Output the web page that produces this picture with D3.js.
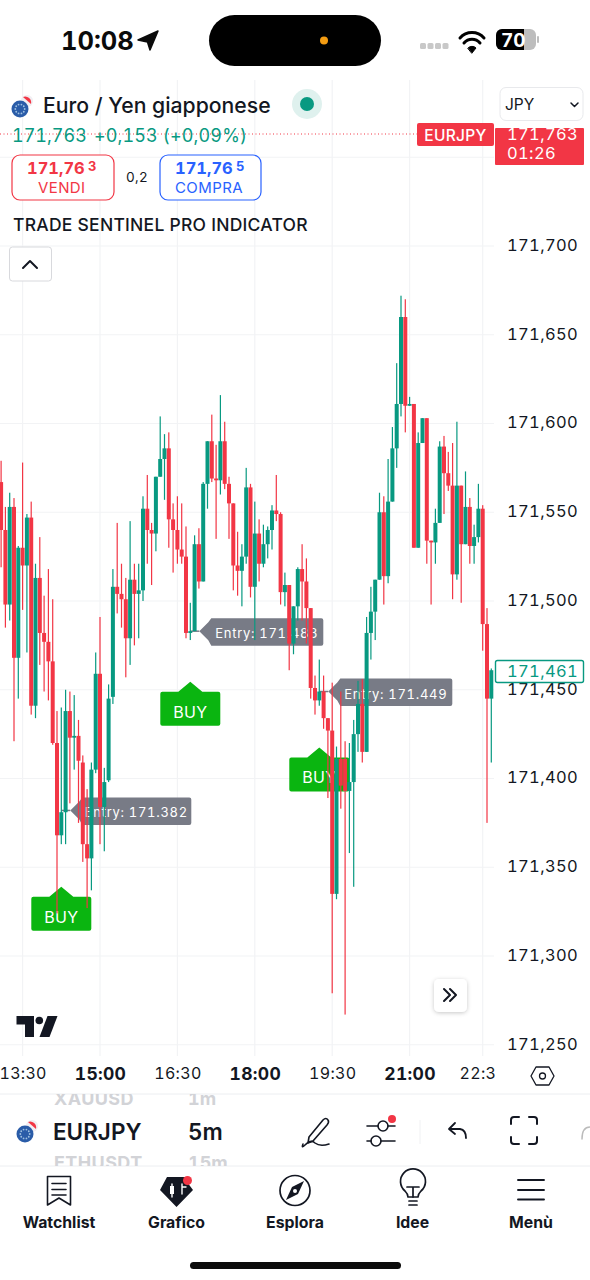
<!DOCTYPE html>
<html><head><meta charset="utf-8">
<script src="https://cdn.jsdelivr.net/npm/d3@7/dist/d3.min.js"></script>
<style>html,body{margin:0;padding:0;background:#fff;overflow:hidden}svg{display:block}text{font-family:Inter,"Noto Sans",sans-serif;font-variant-numeric:tabular-nums;font-feature-settings:"tnum" 1}</style>
</head><body><div id="c"></div>
<script>
// 5-minute bars; prices
const opens=[171.567,171.540,171.498,171.553,171.468,171.530,171.520,171.547,171.441,171.513,171.482,171.477,171.466,171.420,171.368,171.381,171.438,171.423,171.424,171.409,171.363,171.355,171.405,171.459,171.384,171.399,171.446,171.508,171.504,171.501,171.479,171.512,171.504,171.506,171.552,171.540,171.538,171.570,171.580,171.586,171.546,171.540,171.529,171.525,171.482,171.483,171.532,171.511,171.566,171.590,171.569,171.568,171.590,171.566,171.555,171.520,171.517,171.525,171.564,171.508,171.538,171.521,171.532,171.540,171.551,171.549,171.505,171.509,171.476,171.497,171.518,171.511,171.496,171.451,171.444,171.449,171.434,171.427,171.335,171.411,171.411,171.393,171.398,171.425,171.442,171.415,171.482,171.494,171.512,171.550,171.514,171.556,171.586,171.611,171.660,171.610,171.611,171.530,171.589,171.603,171.534,171.533,171.544,171.587,171.572,171.565,171.515,171.565,171.532,171.553,171.531,171.536,171.552,171.487,171.445];
const closes=[171.540,171.498,171.553,171.468,171.530,171.520,171.547,171.441,171.513,171.482,171.477,171.466,171.420,171.368,171.381,171.438,171.423,171.424,171.410,171.363,171.355,171.405,171.459,171.384,171.398,171.445,171.508,171.504,171.501,171.479,171.512,171.504,171.506,171.552,171.540,171.538,171.570,171.580,171.586,171.546,171.540,171.529,171.525,171.482,171.483,171.532,171.511,171.566,171.590,171.569,171.568,171.590,171.566,171.555,171.520,171.517,171.525,171.564,171.508,171.538,171.521,171.532,171.540,171.551,171.549,171.505,171.509,171.476,171.497,171.518,171.511,171.496,171.451,171.444,171.449,171.434,171.427,171.335,171.411,171.396,171.393,171.398,171.425,171.442,171.415,171.482,171.494,171.512,171.550,171.514,171.556,171.586,171.611,171.660,171.610,171.611,171.530,171.589,171.603,171.534,171.533,171.544,171.587,171.572,171.565,171.515,171.565,171.532,171.553,171.531,171.536,171.552,171.487,171.445,171.461];
const highs=[171.579,171.553,171.561,171.558,171.531,171.578,171.549,171.556,171.521,171.536,171.503,171.518,171.501,171.438,171.440,171.450,171.449,171.447,171.433,171.413,171.394,171.409,171.471,171.491,171.406,171.453,171.518,171.544,171.521,171.513,171.545,171.521,171.521,171.559,171.571,171.544,171.570,171.604,171.594,171.595,171.555,171.559,171.555,171.542,171.499,171.537,171.541,171.567,171.590,171.605,171.588,171.616,171.601,171.570,171.555,171.539,171.532,171.575,171.566,171.556,171.546,171.543,171.542,171.554,171.571,171.550,171.516,171.509,171.497,171.519,171.532,171.524,171.496,171.458,171.467,171.458,171.434,171.454,171.418,171.449,171.421,171.420,171.433,171.455,171.456,171.491,171.508,171.512,171.561,171.559,171.580,171.598,171.634,171.672,171.670,171.615,171.611,171.595,171.603,171.603,171.534,171.552,171.590,171.593,171.584,171.589,171.601,171.565,171.573,171.558,171.543,171.566,171.554,171.496,171.462];
const lows=[171.519,171.485,171.489,171.421,171.445,171.495,171.471,171.436,171.434,171.464,171.449,171.444,171.419,171.324,171.363,171.363,171.386,171.405,171.375,171.353,171.327,171.337,171.403,171.363,171.359,171.398,171.442,171.493,171.485,171.457,171.464,171.475,171.479,171.500,171.521,171.509,171.528,171.570,171.557,171.530,171.516,171.521,171.521,171.479,171.478,171.483,171.507,171.511,171.552,171.567,171.535,171.560,171.563,171.535,171.506,171.503,171.497,171.521,171.502,171.478,171.511,171.519,171.524,171.529,171.545,171.498,171.497,171.461,171.470,171.489,171.489,171.476,171.445,171.436,171.441,171.428,171.389,171.279,171.332,171.383,171.267,171.358,171.339,171.415,171.409,171.415,171.467,171.478,171.512,171.498,171.510,171.556,171.575,171.604,171.595,171.610,171.530,171.530,171.589,171.521,171.498,171.521,171.544,171.549,171.562,171.501,171.512,171.499,171.532,171.521,171.521,171.533,171.472,171.375,171.409];
const gridPrices=[171.25,171.30,171.35,171.40,171.45,171.50,171.55,171.60,171.65,171.70,171.75,171.80];
const axisPrices=[171.25,171.30,171.35,171.40,171.45,171.50,171.55,171.60,171.65,171.70];
const timeTickBars=[5,23,41,59,77,95,112];
const timeTickLabels=["13:30","15:00","16:30","18:00","19:30","21:00","22:30"];
const boldTicks=["15:00","18:00","21:00"];
const entryBars=[14,44,74];
const entryPrices=[171.382,171.483,171.449];
const entryTexts=["Entry: 171.382","Entry: 171.483","Entry: 171.449"];
const buyBars=[14,44,74];
const buyPrices=[171.339,171.4545,171.4175];
const lastPrice=171.461, topPrice=171.763;
const navLabels=["Watchlist","Grafico","Esplora","Idee","Menù"];

const W=590,H=1280;
const x=d3.scaleLinear().domain([0,23]).range([1.1,100]);
const y=d3.scaleLinear().domain([171.30,171.60]).range([956,423.5]);
const fmtPrice=d=>d3.format(".3f")(d).replace(".",",");
const GREEN="#089981",RED="#F23645",GRID="#f2f3f5",BLUE="#2962FF",INK="#131722";
const svg=d3.select("#c").append("svg").attr("width",W).attr("height",H).attr("viewBox",`0 0 ${W} ${H}`);
const defs=svg.append("defs");
const clip=(id,a,b,c,d)=>defs.append("clipPath").attr("id",id).append("rect").attr("x",a).attr("y",b).attr("width",c).attr("height",d);
clip("plot",0,80,495,976);clip("timec",0,1056,496,40);clip("tag",495,128,89,37);clip("g1",0,1094,590,14);clip("g2",0,1152,590,14);
const f=defs.append("filter").attr("id","sh").attr("x","-30%").attr("y","-30%").attr("width","160%").attr("height","160%");
f.append("feDropShadow").attr("dx",0).attr("dy",1).attr("stdDeviation",2).attr("flood-color","#000").attr("flood-opacity",.22);
const T=(p,s,xx,yy,o={})=>{const t=p.append("text").attr("x",xx).attr("y",yy).text(s)
 .attr("font-size",o.size||16).attr("font-weight",o.w||400).attr("fill",o.fill||INK).attr("dominant-baseline","central").attr("text-anchor",o.a||"start");
 if(o.ls)t.attr("letter-spacing",o.ls);if(o.clip)t.attr("clip-path",`url(#${o.clip})`);return t;};
const P=(p,d,o={})=>p.append("path").attr("d",d).attr("fill",o.fill||"none").attr("stroke",o.stroke||"none").attr("stroke-width",o.sw||1.6).attr("stroke-linecap","round").attr("stroke-linejoin","round");

// grid
const plot=svg.append("g").attr("clip-path","url(#plot)");
plot.append("g").selectAll("line").data(gridPrices).join("line").attr("x1",0).attr("x2",494).attr("y1",d=>y(d)).attr("y2",d=>y(d)).attr("stroke",GRID).attr("stroke-width",1.2);
plot.append("g").selectAll("line").data(timeTickBars).join("line").attr("x1",d=>x(d)).attr("x2",d=>x(d)).attr("y1",80).attr("y2",1056).attr("stroke",GRID).attr("stroke-width",1.2);

// entry labels (under candles)
const ent=plot.append("g");
entryPrices.forEach((p,k)=>{
 const x0=x(entryBars[k]),yy=y(p),tip=x0+9,bx=tip+9,bw=k==0?112:115,g=ent.append("g");
 g.append("line").attr("x1",x0).attr("x2",tip).attr("y1",yy).attr("y2",yy).attr("stroke","#787B86").attr("stroke-width",1.5);
 g.append("path").attr("d",`M${tip},${yy}L${bx},${yy-9}L${bx+3},${yy-13}H${bx+bw-2}q2,0 2,2V${yy+12.5}q0,2 -2,2H${bx+3}L${bx},${yy+9}Z`).attr("fill","#787B86");
 T(g,entryTexts[k],bx+bw/2+1,yy+2,{size:13,fill:"#fff",a:"middle",ls:.7});
});
// BUY markers (under candles)
const buy=plot.append("g");
buyPrices.forEach((p,k)=>{
 const c=x(buyBars[k]),tp=y(p),g=buy.append("g");
 g.append("path").attr("d",`M${c},${tp}L${c+12},${tp+10}H${c+28}q2,0 2,2V${tp+42}q0,2 -2,2H${c-28}q-2,0 -2,-2V${tp+12}q0,-2 2,-2H${c-12}Z`).attr("fill","#0AB510");
 T(g,"BUY",c,tp+30,{size:16,fill:"#fff",a:"middle",ls:.3});
});
// candles
const bars=d3.range(opens.length).map(i=>({i,o:opens[i],c:closes[i],h:highs[i],l:lows[i]}));
const cg=plot.append("g").selectAll("g").data(bars).join("g").attr("fill",d=>d.c>=d.o?GREEN:RED);
cg.append("rect").attr("x",d=>x(d.i)-.6).attr("width",1.2).attr("y",d=>y(d.h)).attr("height",d=>y(d.l)-y(d.h));
cg.append("rect").attr("x",d=>x(d.i)-2).attr("width",4).attr("y",d=>y(Math.max(d.o,d.c))).attr("height",d=>Math.max(1.2,y(Math.min(d.o,d.c))-y(Math.max(d.o,d.c))));

// TradingView mark + scroll button
P(svg,"M16.5,1016H34V1037H25V1024.5H16.5Z",{fill:"#131722"});
svg.append("circle").attr("cx",39.3).attr("cy",1020.5).attr("r",3.8).attr("fill","#131722");
P(svg,"M47.5,1016H57.5L49.5,1037H39.5Z",{fill:"#131722"});
svg.append("rect").attr("x",434).attr("y",979).attr("width",33).attr("height",33).attr("rx",5).attr("fill","#fff").attr("filter","url(#sh)");
P(svg,"M444,989l6,6l-6,6M450,989l6,6l-6,6",{stroke:"#131722",sw:2});

// dotted top-price line
svg.append("line").attr("x1",0).attr("x2",418).attr("y1",134).attr("y2",134).attr("stroke",RED).attr("stroke-width",1).attr("stroke-dasharray","1 2.5");

// price axis
const ay=d3.axisRight(y).tickValues(axisPrices).tickFormat(fmtPrice).tickSize(0).tickPadding(0);
const gy=svg.append("g").attr("transform","translate(507,-1)").call(ay);
gy.select(".domain").remove();
gy.selectAll("text").attr("font-size",16.5).attr("fill",INK).attr("letter-spacing",.35);
// time axis
const ax=d3.axisBottom(x).tickValues(timeTickBars).tickFormat((d,i)=>timeTickLabels[i]).tickSize(0).tickPadding(0);
const gx=svg.append("g").attr("clip-path","url(#timec)").append("g").attr("transform","translate(0,1068)").call(ax);
gx.select(".domain").remove();
gx.selectAll("text").attr("fill",INK).attr("letter-spacing",.3)
 .attr("font-size",(d,i)=>boldTicks.includes(timeTickLabels[i])?17.5:16)
 .attr("font-weight",(d,i)=>boldTicks.includes(timeTickLabels[i])?700:400);
// settings hexagon
P(svg,"M536,1067H549L554,1076L549,1085H536L531,1076Z",{stroke:INK,sw:1.3});
svg.append("circle").attr("cx",542.5).attr("cy",1076).attr("r",3).attr("fill","none").attr("stroke",INK).attr("stroke-width",1.3);

// last price tag
svg.append("rect").attr("x",495.5).attr("y",660.5).attr("width",88).attr("height",22).attr("rx",2).attr("fill","#fff").attr("stroke",GREEN).attr("stroke-width",1.4);
T(svg,fmtPrice(lastPrice),507,671,{size:16.5,fill:GREEN,ls:.35});
// EURJPY + countdown tag
svg.append("rect").attr("x",417).attr("y",123).attr("width",77).attr("height",23).attr("rx",2).attr("fill",RED);
T(svg,"EURJPY",455.5,135,{size:15.5,fill:"#fff",a:"middle",w:500,ls:.3});
svg.append("rect").attr("x",495).attr("y",128).attr("width",89).attr("height",37).attr("rx",1).attr("fill",RED);
T(svg,fmtPrice(topPrice),507,134,{size:16.5,fill:"#fff",ls:.35,clip:"tag"});
T(svg,"01:26",507,153,{size:16.5,fill:"#fff",ls:.35});
// currency select
svg.append("rect").attr("x",500).attr("y",87.5).attr("width",83).attr("height",33).attr("rx",6).attr("fill","#fff").attr("stroke","#e8e9ec");
T(svg,"JPY",505,104.5,{size:15.5,fill:INK});
P(svg,"M571,103l3.5,3.5l3.5,-3.5",{stroke:INK,sw:1.5});

// header
function flag(p,cx,cy,r){
 p.append("circle").attr("cx",cx+7).attr("cy",cy-8).attr("r",r*.72).attr("fill","#f1eef2");
 p.append("path").attr("d",`M${cx+3},${cy-12}a6,6 0 0 1 8,7z`).attr("fill",RED);
 p.append("circle").attr("cx",cx).attr("cy",cy).attr("r",r).attr("fill","#2a5ca8");
 d3.range(10).forEach(i=>p.append("circle").attr("cx",cx+Math.cos(i*.628)*r*.55).attr("cy",cy+Math.sin(i*.628)*r*.55).attr("r",.9).attr("fill","#9fc0e0"));
}
flag(svg,20,109,8.5);
T(svg,"Euro / Yen giapponese",43,105,{size:21.2,w:500});
svg.append("circle").attr("cx",307).attr("cy",104).attr("r",15).attr("fill","#dff1ee");
svg.append("circle").attr("cx",307).attr("cy",104).attr("r",7).attr("fill",GREEN);
T(svg,"171,763",12,135,{size:18,fill:GREEN});
T(svg,"+0,153 (+0,09%)",94,135,{size:18,fill:GREEN,ls:.12});
// sell / buy boxes
svg.append("rect").attr("x",12).attr("y",155).attr("width",102).attr("height",45).attr("rx",8).attr("fill","#fff").attr("stroke",RED).attr("stroke-width",1.2);
svg.append("rect").attr("x",160).attr("y",155).attr("width",101).attr("height",45).attr("rx",8).attr("fill","#fff").attr("stroke",BLUE).attr("stroke-width",1.2);
T(svg,"171,76",27,168,{size:16.5,w:700,fill:RED});T(svg,"3",88,165.5,{size:13,w:700,fill:RED});
T(svg,"VENDI",38,187,{size:15,fill:RED,ls:.4});
T(svg,"171,76",175,168,{size:16.5,w:700,fill:BLUE});T(svg,"5",236,165.5,{size:13,w:700,fill:BLUE});
T(svg,"COMPRA",175,187,{size:15,fill:BLUE,ls:.4});
T(svg,"0,2",126,177,{size:13.5,ls:.3});
T(svg,"TRADE SENTINEL PRO INDICATOR",13,224,{size:17.5,w:500,ls:.25});
svg.append("rect").attr("x",9.5).attr("y",247).attr("width",42).attr("height",34).attr("rx",3).attr("fill","#fff").attr("stroke","#d8d9dd");
P(svg,"M23,268l7,-7l7,7",{stroke:INK,sw:2});

// status bar
T(svg,"10:08",61,40,{size:25.5,w:700,fill:"#0b0b0b"});
P(svg,"M158,31L150,50L147.5,42L138,40Z",{fill:"#0b0b0b",stroke:"#0b0b0b",sw:1.5});
svg.append("rect").attr("x",209).attr("y",15).attr("width",172).attr("height",51).attr("rx",25.5).attr("fill","#000");
svg.append("circle").attr("cx",324).attr("cy",40.5).attr("r",4).attr("fill","#F39C12");
svg.append("g").selectAll("rect").data(d3.range(4)).join("rect").attr("x",d=>420+d*7.5).attr("y",43).attr("width",6).attr("height",6).attr("rx",1.5).attr("fill","#c8c8c8");
P(svg,"M460,38a16,16 0 0 1 24,0M464,43a10.5,10.5 0 0 1 16,0",{stroke:"#000",sw:3});
P(svg,"M468,48a5.5,5.5 0 0 1 8,0L472,53Z",{fill:"#000",stroke:"#000",sw:1});
svg.append("rect").attr("x",496).attr("y",29).attr("width",40).attr("height",21).attr("rx",6).attr("fill","#bdbdbd");
P(svg,"M502,29H524V50H502a6,6 0 0 1 -6,-6V35a6,6 0 0 1 6,-6Z",{fill:"#000"});
svg.append("rect").attr("x",537).attr("y",36).attr("width",2).attr("height",7).attr("rx",1).attr("fill","#bdbdbd");
T(svg,"70",501,40,{size:19,w:700,fill:"#fff"});

// toolbar
svg.append("line").attr("x1",0).attr("x2",590).attr("y1",1094).attr("y2",1094).attr("stroke","#eceef1");
svg.append("line").attr("x1",0).attr("x2",590).attr("y1",1166).attr("y2",1166).attr("stroke","#eceef1");
T(svg,"XAUUSD",54,1098,{size:18,w:700,fill:"#d2d3d7",clip:"g1",ls:.4});
T(svg,"1m",188,1098,{size:18,w:700,fill:"#d2d3d7",clip:"g1"});
T(svg,"ETHUSDT",54,1162,{size:18,w:700,fill:"#d2d3d7",clip:"g2",ls:.4});
T(svg,"15m",188,1162,{size:18,w:700,fill:"#d2d3d7",clip:"g2"});
flag(svg,25,1134,8.5);
T(svg,"EURJPY",53,1131,{size:22.5,w:600});
T(svg,"5m",188,1131,{size:22.5,w:600});
P(svg,"M309,1137L323,1120Q326,1117 328,1120Q329.5,1122 327,1125L313,1141L308,1143Z",{stroke:INK,sw:1.6});
P(svg,"M303,1144Q301,1149 305,1145Q311,1139 315,1143Q320,1147 329,1144",{stroke:INK,sw:1.6});
P(svg,"M367,1126H378M388,1126H395M367,1141H371M381,1141H395",{stroke:INK,sw:1.6});
svg.append("circle").attr("cx",383).attr("cy",1126).attr("r",5).attr("fill","none").attr("stroke",INK).attr("stroke-width",1.6);
svg.append("circle").attr("cx",376).attr("cy",1141).attr("r",5).attr("fill","none").attr("stroke",INK).attr("stroke-width",1.6);
svg.append("circle").attr("cx",392).attr("cy",1119).attr("r",4).attr("fill",RED);
svg.append("line").attr("x1",420).attr("x2",420).attr("y1",1120).attr("y2",1144).attr("stroke","#f0f1f3");
P(svg,"M449,1129l6,-6M449,1129l6,5M449,1129H460Q466,1130 466,1138",{stroke:INK,sw:1.8});
P(svg,"M511,1124V1120Q511,1117 514,1117H519M529,1117H534Q537,1117 537,1120V1124M537,1137V1141Q537,1144 534,1144H529M519,1144H514Q511,1144 511,1141V1137",{stroke:INK,sw:2});
P(svg,"M590,1127Q582,1127 582,1139",{stroke:"#bbb",sw:1.5});

// bottom nav
const navX=[59,176.5,295,412.5,531];
navLabels.forEach((s,i)=>T(svg,s,navX[i],1222,{size:15.8,w:700,a:"middle",fill:"#131722"}));
P(svg,"M47.5,1176.5H70.5V1205L59,1198L47.5,1205Z",{stroke:INK,sw:1.6});
P(svg,"M52,1183.5H66M52,1189.5H66M52,1195H66",{stroke:INK,sw:1.6});
P(svg,"M167,1177H187V1182L193,1190L176.5,1207L160,1190Z",{fill:"#131722"});
P(svg,"M172,1184V1197M182,1184V1194M182,1187H186",{stroke:"#fff",sw:1.4});
svg.append("rect").attr("x",170).attr("y",1186).attr("width",4).attr("height",8).attr("fill","#fff");
svg.append("circle").attr("cx",187.5).attr("cy",1180.5).attr("r",4.5).attr("fill",RED);
svg.append("circle").attr("cx",295).attr("cy",1190.5).attr("r",15).attr("fill","none").attr("stroke",INK).attr("stroke-width",1.7);
P(svg,"M304,1181L298,1194L286,1200L292,1187Z",{fill:INK});
svg.append("circle").attr("cx",295).attr("cy",1191).attr("r",2).attr("fill","#fff");
P(svg,"M408,1197Q408,1194 405,1191A12.5,12.5 0 1 1 421,1191Q418,1194 418,1197Z",{stroke:INK,sw:1.7});
P(svg,"M407,1187H419M413,1187V1197M409,1201H417M409,1205H417",{stroke:INK,sw:1.7});
P(svg,"M518,1180H544M518,1190H544M518,1199.5H544",{stroke:INK,sw:1.9});
svg.append("rect").attr("x",190).attr("y",1262).attr("width",211).attr("height",7).attr("rx",3.5).attr("fill","#0b0b0b");
</script></body></html>
